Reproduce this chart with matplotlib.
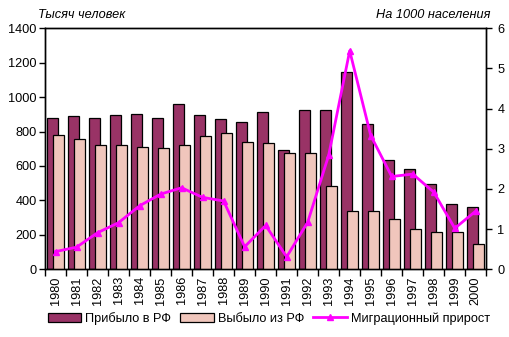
import numpy as np
import matplotlib
matplotlib.use("Agg")
import matplotlib.pyplot as plt
from matplotlib.lines import Line2D
from matplotlib.patches import Patch

# Migration to/from the Russian Federation, 1980-2000
years = list(range(1980, 2001))
arrived = [878, 889, 878, 895, 901, 878, 959, 895, 872, 855, 913,
           692, 924, 924, 1147, 845, 634, 581, 496, 378, 360]
departed = [779, 756, 721, 721, 709, 703, 721, 773, 791, 738, 732,
            674, 674, 484, 337, 337, 291, 233, 217, 217, 145]
net_rate = [0.44, 0.55, 0.91, 1.16, 1.58, 1.87, 2.03, 1.79, 1.70, 0.56, 1.09,
            0.31, 1.17, 2.84, 5.44, 3.33, 2.31, 2.37, 1.92, 1.02, 1.45]

plt.rcParams['font.family'] = ['Liberation Sans', 'DejaVu Sans']
plt.rcParams['font.size'] = 9.2

c_in = '#993366'
c_out = '#F0C6BC'
c_line = '#FF00FF'

fig = plt.figure(figsize=(5.09, 3.37), dpi=100)
ax = fig.add_axes([0.0884, 0.201, 0.867, 0.715])
x = np.arange(len(years))

ax.bar(x - 0.14, arrived, width=0.51, color=c_in, edgecolor='black', linewidth=0.9, zorder=2)
ax.bar(x + 0.14, departed, width=0.51, color=c_out, edgecolor='black', linewidth=0.9, zorder=3)

ax.set_xlim(-0.5, len(years) - 0.5)
ax.set_ylim(0, 1400)
ax.set_yticks(range(0, 1401, 200))
ax.set_xticks(x)
ax.set_xticklabels([str(y) for y in years], rotation=90)
ax.set_xticks(np.arange(-0.5, len(years)), minor=True)
ax.tick_params(axis='x', which='major', length=0, pad=5)
ax.tick_params(axis='x', which='minor', length=5, width=1, direction='out')
ax.tick_params(axis='y', length=4, width=1, direction='out', pad=2)
for sp in ax.spines.values():
    sp.set_linewidth(1)

ax2 = ax.twinx()
ax2.plot(x, net_rate, color=c_line, linewidth=2, marker='^', markersize=5,
         markeredgecolor=c_line, zorder=5)
ax2.set_ylim(0, 6)
ax2.set_yticks(range(0, 7))
ax2.tick_params(axis='y', length=4, width=1, direction='out', pad=4)
for sp in ax2.spines.values():
    sp.set_linewidth(1)

fig.text(0.075, 0.955, 'Тысяч человек', style='italic', ha='left', va='center')
fig.text(0.963, 0.955, 'На 1000 населения', style='italic', ha='right', va='center')

handles = [Patch(facecolor=c_in, edgecolor='black', linewidth=0.9),
           Patch(facecolor=c_out, edgecolor='black', linewidth=0.9),
           Line2D([], [], color=c_line, linewidth=2, marker='^', markersize=5)]
fig.legend(handles, ['Прибыло в РФ', 'Выбыло из РФ', 'Миграционный прирост'],
           loc='center', bbox_to_anchor=(0.528, 0.055), ncol=3, frameon=False,
           handlelength=2.6, handleheight=0.75, columnspacing=0.75, handletextpad=0.3)

fig.savefig('out.png', dpi=100)
